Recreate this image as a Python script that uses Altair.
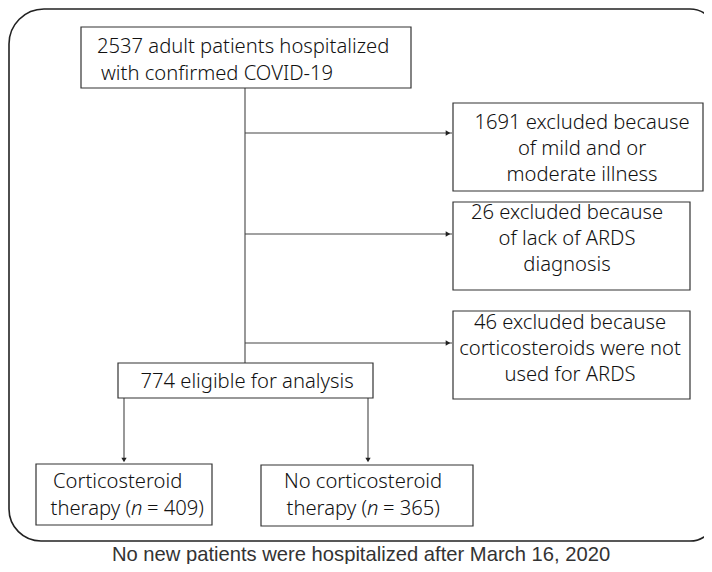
import altair as alt
import pandas as pd

# ---- boxes (pixel coordinates of the flowchart) ----
box_x0 = [81, 453, 453, 453, 118, 36, 261]
box_x1 = [411, 703, 690, 690, 373, 212, 473]
box_y0 = [27, 103, 202, 311, 363, 464, 465]
box_y1 = [88, 191, 290, 399, 398, 525, 526]

# ---- connector lines ----
line_x0 = [245, 245, 245, 245, 124, 368]
line_x1 = [245, 452, 452, 452, 124, 368]
line_y0 = [88, 133, 234, 343, 398, 398]
line_y1 = [363, 133, 234, 343, 460, 460]

# ---- arrow heads ----
head_x = [448, 448, 448, 124, 368]
head_y = [133, 234, 343, 460, 460]
head_shape = ["triangle-right", "triangle-right", "triangle-right", "triangle-down", "triangle-down"]

# ---- text lines ----
txt = [
    "2537 adult patients hospitalized", "with confirmed COVID-19",
    "1691 excluded because", "of mild and or", "moderate illness",
    "26 excluded because", "of lack of ARDS", "diagnosis",
    "46 excluded because", "corticosteroids were not", "used for ARDS",
    "774 eligible for analysis",
    "Corticosteroid", "No corticosteroid",
]
txt_x = [97, 101, 582, 582, 582, 567, 567, 567, 570, 570, 570, 247, 53, 363]
txt_y = [53, 80, 129, 155, 181, 219, 245, 271, 329, 355, 381, 388, 488, 488]
txt_align = ["left", "left", "center", "center", "center", "center", "center", "center",
             "center", "center", "center", "center", "left", "center"]

# therapy (n = ...) lines split for italic n
thr_pre = ["therapy (", "therapy ("]
thr_n = ["n", "n"]
thr_post = ["= 409)", "= 365)"]
thr_xn = [131, 367]
thr_xpost = [147, 383]
thr_y = [515, 515]

caption = "No new patients were hospitalized after March 16, 2020"

FONT = "Noto Sans"
FS = 20.2
FW = 300
X = alt.Scale(domain=[8, 704])
Y = alt.Scale(domain=[8, 564], reverse=True)

def xenc(f):
    return alt.X(f, type="quantitative", scale=X, axis=None)

def yenc(f):
    return alt.Y(f, type="quantitative", scale=Y, axis=None)

outer = alt.Chart(pd.DataFrame({"x": [9], "x2": [716], "y": [9], "y2": [541]})).mark_rect(
    fillOpacity=0, stroke="#222", strokeWidth=1.6, clip=True,
    cornerRadiusTopLeft=35, cornerRadiusBottomLeft=32,
    cornerRadiusTopRight=26, cornerRadiusBottomRight=26,
).encode(x=xenc("x"), x2="x2", y=yenc("y"), y2="y2")

boxes = alt.Chart(pd.DataFrame({"x": box_x0, "x2": box_x1, "y": box_y0, "y2": box_y1})).mark_rect(
    fill="white", stroke="#333", strokeWidth=1.2
).encode(x=xenc("x"), x2="x2", y=yenc("y"), y2="y2")

lines = alt.Chart(pd.DataFrame({"x": line_x0, "x2": line_x1, "y": line_y0, "y2": line_y1})).mark_rule(
    color="#444", strokeWidth=1.1
).encode(x=xenc("x"), x2="x2", y=yenc("y"), y2="y2")

heads = alt.Chart(pd.DataFrame({"x": head_x, "y": head_y, "s": head_shape})).mark_point(
    filled=True, color="#222", size=28, opacity=1
).encode(x=xenc("x"), y=yenc("y"),
         shape=alt.Shape("s:N", scale=alt.Scale(domain=["triangle-right", "triangle-down"],
                                                range=["triangle-right", "triangle-down"]), legend=None))

tdf = pd.DataFrame({"t": txt, "x": txt_x, "y": txt_y, "a": txt_align})
texts = []
for a in ["left", "center", "right"]:
    sub = tdf[tdf.a == a]
    if len(sub):
        texts.append(alt.Chart(sub).mark_text(
            align=a, baseline="alphabetic", font=FONT, fontSize=FS, fontWeight=FW, color="#111"
        ).encode(x=xenc("x"), y=yenc("y"), text="t:N"))

pre = alt.Chart(pd.DataFrame({"t": thr_pre, "x": thr_xn, "y": thr_y})).mark_text(
    align="right", baseline="alphabetic", font=FONT, fontSize=FS, fontWeight=FW, color="#111"
).encode(x=xenc("x"), y=yenc("y"), text="t:N")
nn = alt.Chart(pd.DataFrame({"t": thr_n, "x": thr_xn, "y": thr_y})).mark_text(
    align="left", baseline="alphabetic", font=FONT, fontSize=FS, fontWeight=FW, fontStyle="italic", color="#111"
).encode(x=xenc("x"), y=yenc("y"), text="t:N")
post = alt.Chart(pd.DataFrame({"t": thr_post, "x": thr_xpost, "y": thr_y})).mark_text(
    align="left", baseline="alphabetic", font=FONT, fontSize=FS, fontWeight=FW, color="#111"
).encode(x=xenc("x"), y=yenc("y"), text="t:N")

cap = alt.Chart(pd.DataFrame({"t": [caption], "x": [361], "y": [561]})).mark_text(
    align="center", baseline="alphabetic", font="Liberation Sans", fontSize=20.2, color="#333"
).encode(x=xenc("x"), y=yenc("y"), text="t:N")

chart = alt.layer(outer, lines, heads, boxes, *texts, pre, nn, post, cap).properties(
    width=696, height=556, padding=0, autosize=alt.AutoSizeParams(type="none")
).configure_view(strokeWidth=0)

chart.save("out.html", embed_options={"renderer": "svg", "actions": False})
